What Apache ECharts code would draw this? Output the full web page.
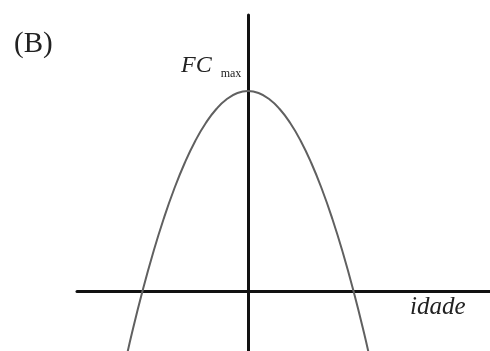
<!DOCTYPE html>
<html>
<head>
<meta charset="utf-8">
<script src="https://cdn.jsdelivr.net/npm/echarts@6/dist/echarts.min.js"></script>
<style>
  html, body { margin: 0; padding: 0; background: #fff; }
  #main { width: 490px; height: 351px; }
</style>
</head>
<body>
<div id="main"></div>
<script>
// idade (x) e FC (y), unidades relativas: raizes em +-1, FCmax = 1
var idade = [-1.16, -1.1, -1.0, -0.9, -0.8, -0.7, -0.6, -0.5, -0.4, -0.3, -0.2, -0.1, 0, 0.1, 0.2, 0.3, 0.4, 0.5, 0.6, 0.7, 0.8, 0.9, 1.0, 1.1, 1.16];
var fc = [-0.35, -0.21, 0, 0.19, 0.36, 0.51, 0.64, 0.75, 0.84, 0.91, 0.96, 0.99, 1, 0.99, 0.96, 0.91, 0.84, 0.75, 0.64, 0.51, 0.36, 0.19, 0, -0.21, -0.35];
var xRange = [-1.621, 2.294];
var yRange = [-0.3, 1.38];

var pts = idade.map(function (x, i) { return [x, fc[i]]; });

var chart = echarts.init(document.getElementById('main'));
chart.setOption({
  animation: false,
  grid: { left: 77, right: 0, top: 15, bottom: 0 },
  xAxis: {
    type: 'value', min: xRange[0], max: xRange[1],
    axisLine: { onZero: true, lineStyle: { color: '#111', width: 3 } },
    axisTick: { show: false }, axisLabel: { show: false }, splitLine: { show: false }
  },
  yAxis: {
    type: 'value', min: yRange[0], max: yRange[1],
    axisLine: { show: true, onZero: true, lineStyle: { color: '#111', width: 3 } },
    axisTick: { show: false }, axisLabel: { show: false }, splitLine: { show: false }
  },
  series: [{
    type: 'line',
    data: pts,
    smooth: true,
    symbol: 'none',
    clip: true,
    z: 1,
    lineStyle: { color: '#606060', width: 2 }
  }],
  graphic: [
    {
      type: 'text', left: 14, top: 30,
      style: { text: '(B)', font: '29px "Liberation Serif"', fill: '#222' }
    },
    {
      type: 'text', left: 181, top: 54,
      style: {
        text: '{a|FC}{b|max}',
        rich: {
          a: { font: 'italic 24px "Liberation Serif"', fill: '#222' },
          b: { font: '12px "Liberation Serif"', fill: '#222', padding: [16, 0, 0, 9] }
        }
      }
    },
    {
      type: 'text', left: 410, top: 295,
      style: { text: 'idade', font: 'italic 25px "Liberation Serif"', fill: '#222' }
    }
  ]
});
</script>
</body>
</html>
